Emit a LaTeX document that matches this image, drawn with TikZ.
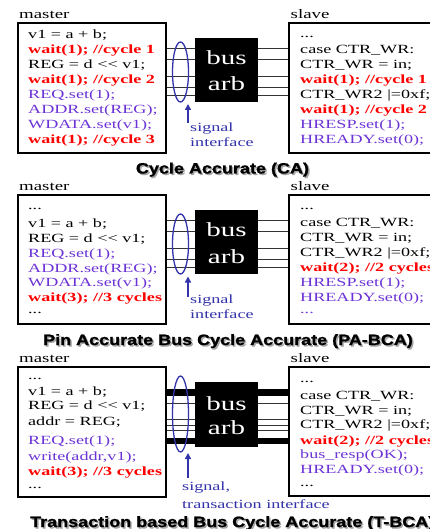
\documentclass[tikz,border=0pt]{standalone}
\usepackage{fontspec}
\setmainfont{Liberation Serif}[FakeStretch=1.45]
\newfontfamily\titlefont{Liberation Sans}[FakeStretch=1.2, BoldFeatures={FakeBold=1.3}]
\usetikzlibrary{arrows.meta,shapes.geometric}
\definecolor{cred}{RGB}{255,0,0}
\definecolor{cpur}{RGB}{108,52,214}
\definecolor{cblue}{RGB}{51,51,170}
\newcommand{\shl}{<\kern0pt<}
\begin{document}
\begin{tikzpicture}[x=1pt,y=-1pt,
  box/.style={draw=black, line width=2.2pt, fill=white, anchor=north west, inner sep=0pt},
  code/.style={anchor=base west, inner sep=0pt, font=\fontsize{12.5}{14}\selectfont},
  rd/.style={code, text=cred, font=\fontsize{12.5}{14}\selectfont\bfseries},
  pu/.style={code, text=cpur},
  lbl/.style={anchor=base west, inner sep=0pt, font=\fontsize{13}{15}\selectfont},
  arb/.style={fill=black, anchor=north west, inner sep=0pt},
  arbtxt/.style={anchor=base, inner sep=0pt, text=white, font=\fontsize{20}{22}\selectfont},
  wire/.style={draw=black!80, line width=0.9pt},
  sig/.style={draw=cblue, line width=1.3pt, ellipse, inner sep=0pt},
  sigarrow/.style={draw=cblue, line width=2pt, -{Triangle[length=6pt,width=6pt]}},
  sigtxt/.style={anchor=base west, inner sep=0pt, text=cblue, font=\fontsize{12.5}{14}\selectfont},
  ttl/.style={inner sep=0pt, font=\titlefont\bfseries\fontsize{15}{17}\selectfont},
  ttlsh/.style={ttl, text=black!35},
]
\fill[white] (0,0) rectangle (429,529);
\useasboundingbox (0,0) rectangle (429,529);

% ================= Panel 1 =================
\node[lbl] (m1lab) at (19,19) {master};
\node[lbl] (s1lab) at (290.5,19) {slave};
\node[box, minimum width=148, minimum height=130] (m1) at (17,22) {};
\node[box, minimum width=152, minimum height=130] (s1) at (288,22) {};
\foreach \yy in {48,59,76,87,95} \draw[wire] (m1.east |- 0,\yy) -- (s1.west |- 0,\yy);
\node[arb, minimum width=63, minimum height=64] (b1) at (195,38) {};
\node[arbtxt] (b1t) at (226.5,64.3) {bus};
\node[arbtxt] (b1u) at (226.5,91) {arb};
\node[sig, minimum width=16, minimum height=60] (e1) at (180.5,72) {};
\coordinate (a1s) at (188,123);
\coordinate (a1e) at (188,104);
\draw[sigarrow] (a1s) -- (a1e);
\node[sigtxt] (g1a) at (190,132) {signal};
\node[sigtxt] (g1b) at (190,146.5) {interface};

\node[code] (m1c1) at (28,38.5) {v1 = a + b;};
\node[rd]   (m1c2) at (28,53.5) {wait(1); //cycle 1};
\node[code] (m1c3) at (28,68.5) {REG = d \shl{} v1;};
\node[rd]   (m1c4) at (28,83.5) {wait(1); //cycle 2};
\node[pu]   (m1c5) at (28,98.5) {REQ.set(1);};
\node[pu]   (m1c6) at (28,113.5) {ADDR.set(REG);};
\node[pu]   (m1c7) at (28,128.5) {WDATA.set(v1);};
\node[rd]   (m1c8) at (28,143.5) {wait(1); //cycle 3};

\node[code] (s1c1) at (300,38) {...};
\node[code] (s1c2) at (300,53.5) {case CTR\_WR:};
\node[code] (s1c3) at (300,68.5) {CTR\_WR = in;};
\node[rd]   (s1c4) at (300,83.5) {wait(1); //cycle 1};
\node[code] (s1c5) at (300,98.5) {CTR\_WR2 |=0xf;};
\node[rd]   (s1c6) at (300,113.5) {wait(1); //cycle 2};
\node[pu]   (s1c7) at (300,128.5) {HRESP.set(1);};
\node[pu]   (s1c8) at (300,143.5) {HREADY.set(0);};

\node[ttlsh, anchor=base] (t1s) at (224,175) {Cycle Accurate (CA)};
\node[ttl, anchor=base] (t1) at (222.5,173.5) {Cycle Accurate (CA)};

% ================= Panel 2 =================
\node[lbl] (m2lab) at (19,190.5) {master};
\node[lbl] (s2lab) at (290.5,190.5) {slave};
\node[box, minimum width=148, minimum height=129] (m2) at (17,194) {};
\node[box, minimum width=152, minimum height=129] (s2) at (288,194) {};
\foreach \yy in {220,231,248,259,267} \draw[wire] (m2.east |- 0,\yy) -- (s2.west |- 0,\yy);
\node[arb, minimum width=63, minimum height=64] (b2) at (195,210) {};
\node[arbtxt] (b2t) at (226.5,236.3) {bus};
\node[arbtxt] (b2u) at (226.5,263) {arb};
\node[sig, minimum width=16, minimum height=60] (e2) at (180.5,244) {};
\coordinate (a2s) at (188,297);
\coordinate (a2e) at (188,276.5);
\draw[sigarrow] (a2s) -- (a2e);
\node[sigtxt] (g2a) at (190,303) {signal};
\node[sigtxt] (g2b) at (190,318) {interface};

\node[code] (m2c1) at (28,209.5) {...};
\node[code] (m2c2) at (28,227) {v1 = a + b;};
\node[code] (m2c3) at (28,242) {REG = d \shl{} v1;};
\node[pu]   (m2c4) at (28,257) {REQ.set(1);};
\node[pu]   (m2c5) at (28,272) {ADDR.set(REG);};
\node[pu]   (m2c6) at (28,286.5) {WDATA.set(v1);};
\node[rd]   (m2c7) at (28,301.5) {wait(3); //3 cycles};
\node[code] (m2c8) at (28,313) {...};

\node[code] (s2c1) at (300,209.5) {...};
\node[code] (s2c2) at (300,226.5) {case CTR\_WR:};
\node[code] (s2c3) at (300,241.5) {CTR\_WR = in;};
\node[code] (s2c4) at (300,256.5) {CTR\_WR2 |=0xf;};
\node[rd]   (s2c5) at (300,271.5) {wait(2); //2 cycles};
\node[pu]   (s2c6) at (300,286.5) {HRESP.set(1);};
\node[pu]   (s2c7) at (300,301.5) {HREADY.set(0);};
\node[pu]   (s2c8) at (300,313) {...};

\node[ttlsh, anchor=base] (t2s) at (229.5,346.5) {Pin Accurate Bus Cycle Accurate (PA-BCA)};
\node[ttl, anchor=base] (t2) at (228,345) {Pin Accurate Bus Cycle Accurate (PA-BCA)};

% ================= Panel 3 =================
\node[lbl] (m3lab) at (19,362.5) {master};
\node[lbl] (s3lab) at (290.5,362.5) {slave};
\node[box, minimum width=148, minimum height=130] (m3) at (17,366) {};
\node[box, minimum width=152, minimum height=129] (s3) at (288,366) {};
\draw[draw=black, line width=7.5pt] (m3.east |- 0,392.5) -- (s3.west |- 0,392.5);
\draw[draw=black, line width=6pt] (m3.east |- 0,440.5) -- (s3.west |- 0,440.5);
\foreach \yy in {403.5,419.5,425,430} \draw[wire] (m3.east |- 0,\yy) -- (s3.west |- 0,\yy);
\node[arb, minimum width=63, minimum height=65] (b3) at (195,382) {};
\node[arbtxt] (b3t) at (226.5,410) {bus};
\node[arbtxt] (b3u) at (226.5,434) {arb};
\node[sig, minimum width=16, minimum height=76] (e3) at (180.5,414) {};
\coordinate (a3s) at (188,478);
\coordinate (a3e) at (188,453);
\draw[sigarrow] (a3s) -- (a3e);
\node[sigtxt] (g3a) at (182,490) {signal,};
\node[sigtxt] (g3b) at (182,508.5) {transaction interface};

\node[code] (m3c1) at (28,379) {...};
\node[code] (m3c2) at (28,395.5) {v1 = a + b;};
\node[code] (m3c3) at (28,409.5) {REG = d \shl{} v1;};
\node[code] (m3c4) at (28,425) {addr = REG;};
\node[pu]   (m3c5) at (28,444.5) {REQ.set(1);};
\node[pu]   (m3c6) at (28,460) {write(addr,v1);};
\node[rd]   (m3c7) at (28,475.5) {wait(3); //3 cycles};
\node[code] (m3c8) at (28,488) {...};

\node[code] (s3c1) at (300,382) {...};
\node[code] (s3c2) at (300,399.5) {case CTR\_WR:};
\node[code] (s3c3) at (300,414) {CTR\_WR = in;};
\node[code] (s3c4) at (300,428.5) {CTR\_WR2 |=0xf;};
\node[rd]   (s3c5) at (300,444) {wait(2); //2 cycles};
\node[pu]   (s3c6) at (300,458) {bus\_resp(OK);};
\node[pu]   (s3c7) at (300,473) {HREADY.set(0);};
\node[code] (s3c8) at (300,486) {...};

\node[ttlsh, anchor=base west] (t3s) at (31.5,528.5) {Transaction based Bus Cycle Accurate (T-BCA)};
\node[ttl, anchor=base west] (t3) at (30,527) {Transaction based Bus Cycle Accurate (T-BCA)};
\end{tikzpicture}
\end{document}
